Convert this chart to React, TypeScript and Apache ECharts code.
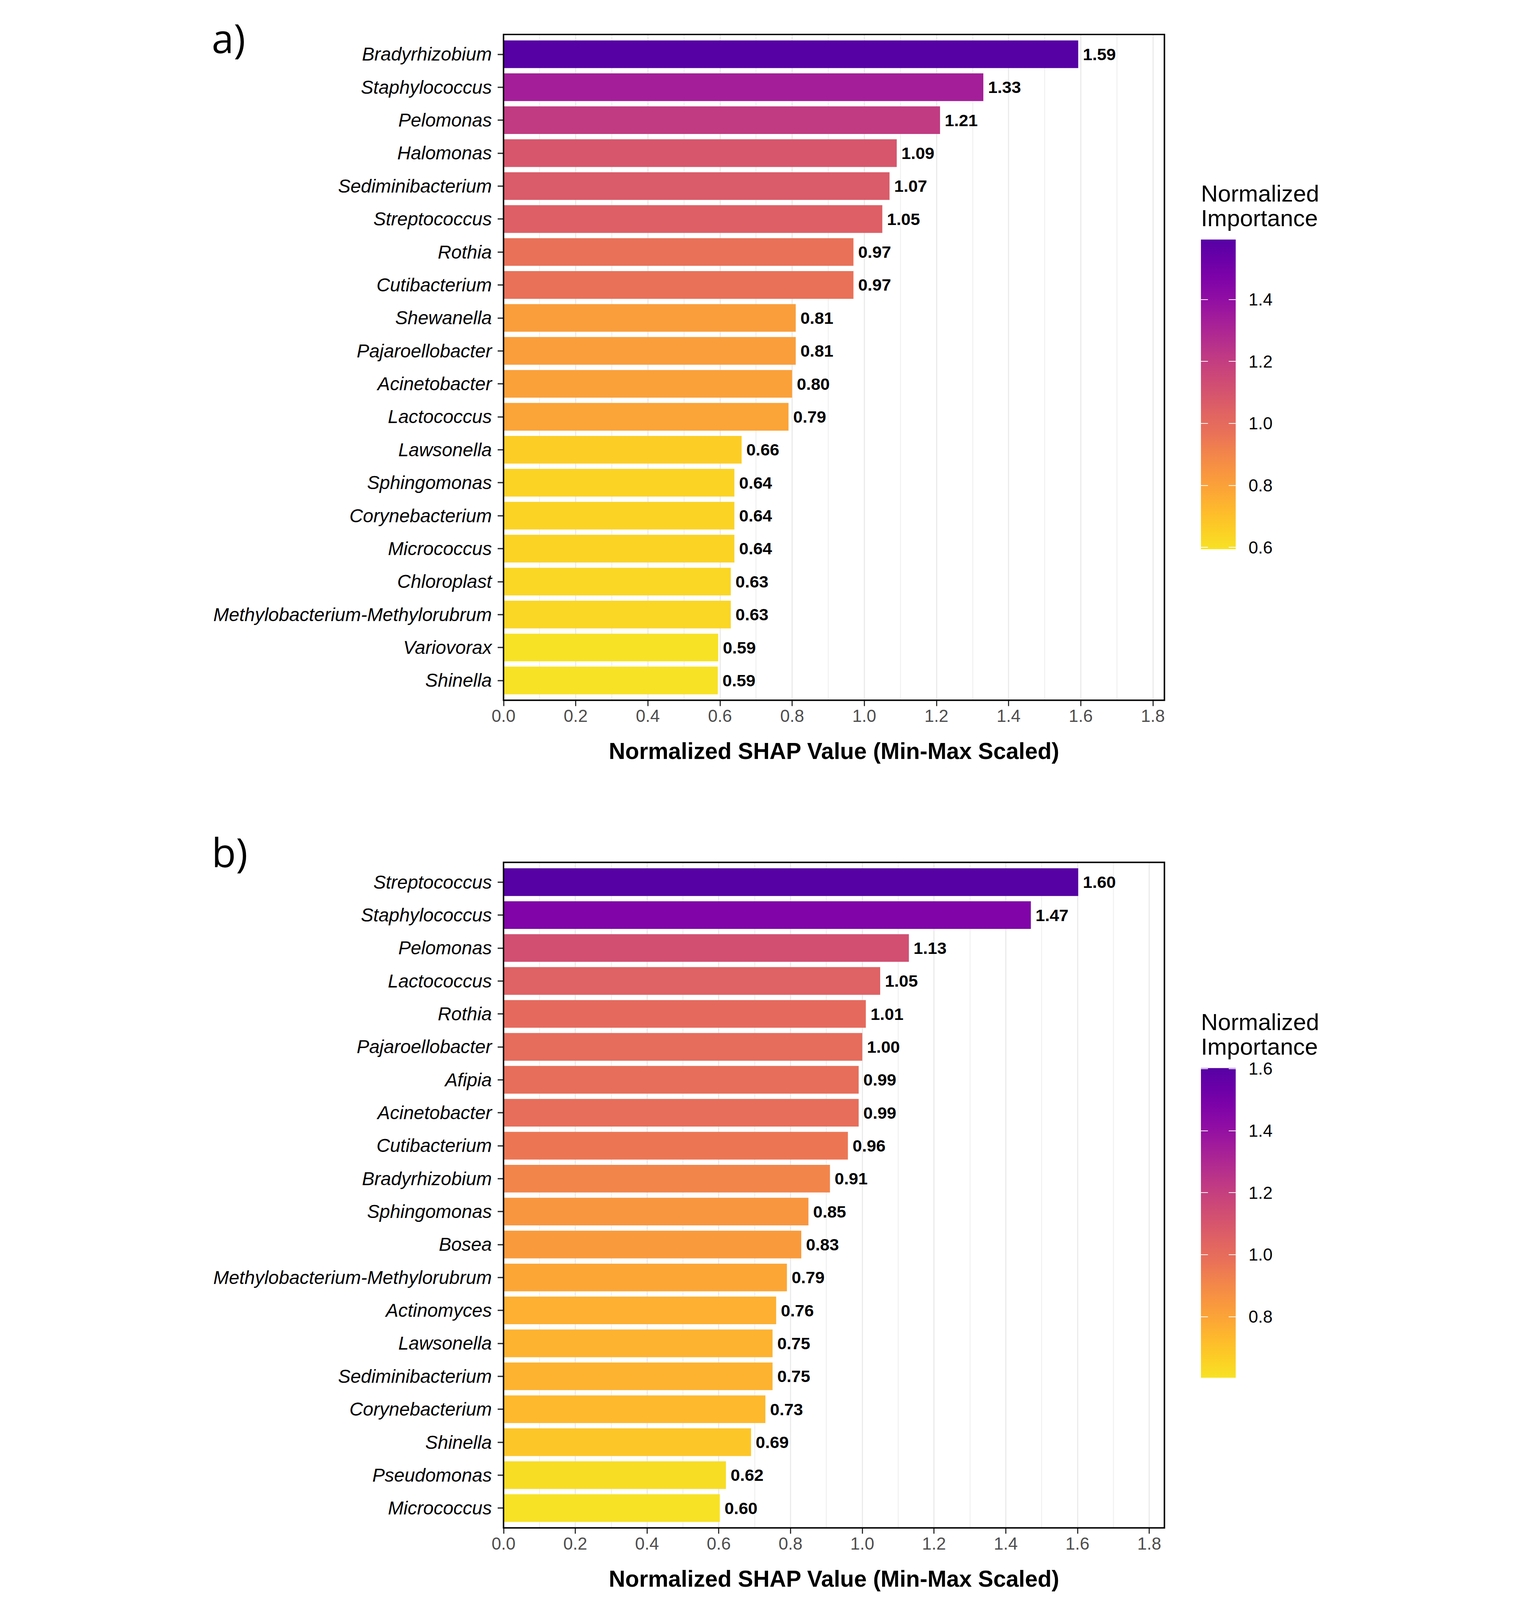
import React, { useEffect, useRef } from 'react';
import * as echarts from 'echarts';

// ---------- data ----------
const categoriesA = [
  'Bradyrhizobium', 'Staphylococcus', 'Pelomonas', 'Halomonas', 'Sediminibacterium',
  'Streptococcus', 'Rothia', 'Cutibacterium', 'Shewanella', 'Pajaroellobacter',
  'Acinetobacter', 'Lactococcus', 'Lawsonella', 'Sphingomonas', 'Corynebacterium',
  'Micrococcus', 'Chloroplast', 'Methylobacterium-Methylorubrum', 'Variovorax', 'Shinella',
];
const valuesA = [
  1.593, 1.33, 1.21, 1.09, 1.07, 1.05, 0.97, 0.97, 0.81, 0.81,
  0.80, 0.79, 0.66, 0.64, 0.64, 0.64, 0.63, 0.63, 0.595, 0.594,
];

const categoriesB = [
  'Streptococcus', 'Staphylococcus', 'Pelomonas', 'Lactococcus', 'Rothia',
  'Pajaroellobacter', 'Afipia', 'Acinetobacter', 'Cutibacterium', 'Bradyrhizobium',
  'Sphingomonas', 'Bosea', 'Methylobacterium-Methylorubrum', 'Actinomyces', 'Lawsonella',
  'Sediminibacterium', 'Corynebacterium', 'Shinella', 'Pseudomonas', 'Micrococcus',
];
const valuesB = [
  1.602, 1.47, 1.13, 1.05, 1.01, 1.00, 0.99, 0.99, 0.96, 0.91,
  0.85, 0.83, 0.79, 0.76, 0.75, 0.75, 0.73, 0.69, 0.62, 0.603,
];

const colorbarTicks = [0.6, 0.8, 1.0, 1.2, 1.4, 1.6];
const xTickMax = 1.8;
const xTickStep = 0.2;

// plasma colormap, from 0.15 (high values) to 0.95 (low values)
const plasma = [
  '#5601a4', '#6a00a8', '#7e03a8', '#8f0da4', '#a11b9b', '#b12a90', '#bf3984', '#cc4778',
  '#d6556d', '#e16462', '#e97158', '#f2844b', '#f89540', '#fca636', '#feba2c', '#fcce25', '#f7e225',
];

const xTitle = 'Normalized SHAP Value (Min-Max Scaled)';
const legendTitle = 'Normalized\nImportance';

const FONT = "'Liberation Sans', Arial, Helvetica, sans-serif";
const REF_W = 3929;
const REF_H = 5477;

export default function App() {
  const ref = useRef<HTMLDivElement>(null);
  const vw = window.innerWidth || REF_W;
  const vh = window.innerHeight || REF_H;

  useEffect(() => {
    document.body.style.margin = '0';
    const chart = echarts.init(ref.current as HTMLDivElement, null, { renderer: 'svg' });

    const s = Math.min(vw / REF_W, vh / REF_H);
    const ox = (vw - REF_W * s) / 2;
    const S = (v: number) => v * s;
    const X = (v: number) => ox + v * s;

    const LEFT = 1061;
    const W = 2262;
    const CB_LEFT = 3448;
    const CB_W = 119;
    const CB_H = 1060;

    const grids: any[] = [];
    const xAxes: any[] = [];
    const yAxes: any[] = [];
    const series: any[] = [];
    const visualMaps: any[] = [];
    const elements: any[] = [];

    const panels = [
      { cats: categoriesA, vals: valuesA, top: 118, height: 2279, cbTop: 820, label: 'a)', labelY: 129 },
      { cats: categoriesB, vals: valuesB, top: 2952, height: 2278, cbTop: 3656, label: 'b)', labelY: 2916 },
    ];

    panels.forEach((p, idx) => {
      const maxV = Math.max(...p.vals);
      const minV = Math.min(...p.vals);
      const xMax = maxV * 1.15;
      const n = p.cats.length;
      const u = p.height / (n + 0.2);
      const g0 = grids.length;

      // frame
      grids.push({
        left: X(LEFT), top: S(p.top), width: S(W), height: S(p.height),
        show: true, borderColor: '#000', borderWidth: S(5), backgroundColor: 'transparent', z: 5,
      });
      // ticks and gridlines, 0 .. 1.8
      grids.push({ left: X(LEFT), top: S(p.top), width: S((W * xTickMax) / xMax), height: S(p.height) });
      // bars
      grids.push({ left: X(LEFT), top: S(p.top + 0.1 * u), width: S(W), height: S(n * u) });
      // colour bar
      grids.push({ left: X(CB_LEFT), top: S(p.cbTop), width: S(CB_W), height: S(CB_H) });

      xAxes.push({ gridIndex: g0, type: 'value', min: 0, max: xMax, show: false });
      xAxes.push({
        gridIndex: g0 + 1, type: 'value', min: 0, max: xTickMax, interval: xTickStep,
        axisLine: { show: false },
        axisTick: { show: true, length: S(20), lineStyle: { color: '#333333', width: S(4) } },
        axisLabel: {
          show: true, fontSize: S(59), color: '#4D4D4D', margin: S(24), fontFamily: FONT,
          formatter: (v: number) => v.toFixed(1),
        },
        splitLine: { show: true, lineStyle: { color: '#EBEBEB', width: S(4) } },
        minorTick: { show: false, splitNumber: 2 },
        minorSplitLine: { show: true, lineStyle: { color: '#EFEFEF', width: S(3) } },
      });
      const xBarIndex = xAxes.length;
      xAxes.push({
        gridIndex: g0 + 2, type: 'value', min: 0, max: xMax,
        axisLine: { show: false }, axisTick: { show: false }, axisLabel: { show: false },
        splitLine: { show: false },
        name: xTitle, nameLocation: 'middle', nameGap: S(146),
        nameTextStyle: { fontSize: S(78), fontWeight: 'bold', color: '#000', fontFamily: FONT },
      });
      xAxes.push({ gridIndex: g0 + 3, type: 'value', show: false });

      yAxes.push({ gridIndex: g0, type: 'value', show: false });
      yAxes.push({ gridIndex: g0 + 1, type: 'value', show: false });
      const yBarIndex = yAxes.length;
      yAxes.push({
        gridIndex: g0 + 2, type: 'category', data: p.cats, inverse: true,
        axisLine: { show: false },
        axisTick: { show: true, alignWithLabel: true, length: S(20), lineStyle: { color: '#333333', width: S(4.5) } },
        axisLabel: { fontStyle: 'italic', fontSize: S(64), color: '#000', margin: S(40), fontFamily: FONT },
        splitLine: { show: false },
      });
      const cbVals = colorbarTicks.filter((t) => t >= minV && t <= maxV);
      const tickCommon = {
        show: true, inside: true, length: S(24), lineStyle: { color: '#FFFFFF', width: S(2.5) }, customValues: cbVals,
      };
      yAxes.push({
        gridIndex: g0 + 3, type: 'value', min: minV, max: maxV, position: 'left', z: 10,
        axisLine: { show: false }, axisTick: tickCommon, axisLabel: { show: false }, splitLine: { show: false },
      });
      yAxes.push({
        gridIndex: g0 + 3, type: 'value', min: minV, max: maxV, position: 'right', z: 10,
        axisLine: { show: false }, axisTick: tickCommon, splitLine: { show: false },
        axisLabel: {
          show: true, fontSize: S(59), margin: S(44), color: '#000', fontFamily: FONT, customValues: cbVals,
          formatter: (v: number) => (Math.abs(v * 5 - Math.round(v * 5)) < 1e-6 ? v.toFixed(1) : ''),
        },
      });

      series.push({
        type: 'bar', xAxisIndex: xBarIndex, yAxisIndex: yBarIndex, data: p.vals, barCategoryGap: '16%',
        label: {
          show: true, position: 'right', distance: S(16), fontSize: S(58), fontWeight: 'bold', color: '#000',
          fontFamily: FONT, formatter: (q: any) => Number(q.value).toFixed(2),
        },
      });

      visualMaps.push({
        type: 'continuous', show: false, seriesIndex: idx, dimension: 0, min: minV, max: maxV,
        inRange: { color: plasma.slice().reverse() },
      });

      elements.push({
        type: 'rect', z: 1,
        shape: { x: X(CB_LEFT), y: S(p.cbTop), width: S(CB_W), height: S(CB_H) },
        style: {
          fill: new echarts.graphic.LinearGradient(0, 0, 0, 1,
            plasma.map((c, i) => ({ offset: i / (plasma.length - 1), color: c }))),
        },
      });
      elements.push({
        type: 'text', x: X(3448), y: S(p.cbTop - 199),
        style: { text: legendTitle, fontSize: S(80), lineHeight: S(84), fontFamily: FONT, fill: '#000', verticalAlign: 'top' },
      });
      elements.push({
        type: 'text', x: X(62), y: S(p.labelY),
        style: { text: p.label, fontSize: S(136), fontFamily: "'Open Sans', 'Noto Sans', sans-serif", fill: '#000', verticalAlign: 'middle' },
      });
    });

    chart.setOption({
      animation: false,
      backgroundColor: '#FFFFFF',
      textStyle: { fontFamily: FONT },
      grid: grids,
      xAxis: xAxes,
      yAxis: yAxes,
      visualMap: visualMaps,
      series,
      graphic: { elements },
    });

    return () => chart.dispose();
  }, []);

  return <div ref={ref} style={{ width: vw, height: vh }} />;
}
